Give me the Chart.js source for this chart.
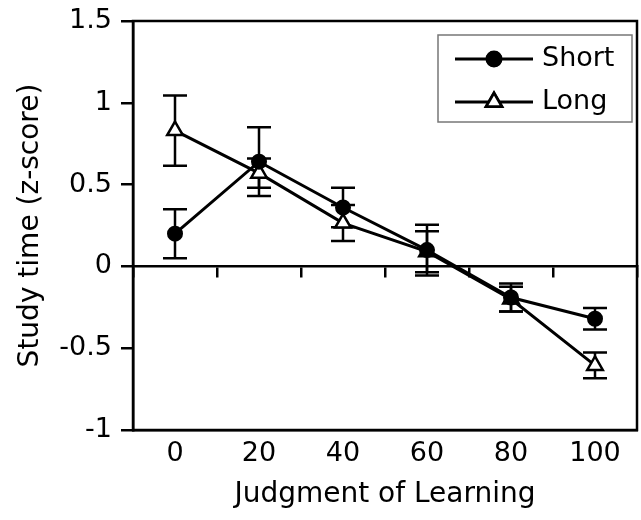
<!DOCTYPE html>
<html>
<head>
<meta charset="utf-8">
<script src="https://cdn.jsdelivr.net/npm/chart.js@4/dist/chart.umd.min.js"></script>
<style>
  html, body { margin: 0; padding: 0; background: #fff; }
  #c { display: block; }
</style>
</head>
<body>
<canvas id="c" width="641" height="520"></canvas>
<script>
// ---- data ----
const categories = ["0", "20", "40", "60", "80", "100"];
const shortValues = [0.20, 0.64, 0.36, 0.10, -0.19, -0.32];
const shortErrors = [0.15, 0.21, 0.12, 0.155, 0.085, 0.065];
const longValues = [0.83, 0.57, 0.265, 0.09, -0.20, -0.605];
const longErrors = [0.215, 0.09, 0.11, 0.125, 0.075, 0.078];
const yTicks = [-1, -0.5, 0, 0.5, 1, 1.5];
const seriesNames = ["Short", "Long"];

const FONT = "DejaVu Sans";
const errorArrays = [shortErrors, longErrors];

function zeroPad(scale) {
  scale.paddingTop = 0; scale.paddingBottom = 0;
  scale.paddingLeft = 0; scale.paddingRight = 0;
}

const errorBarPlugin = {
  id: 'errorBars',
  beforeDatasetsDraw(chart) {
    const ctx = chart.ctx;
    const y = chart.scales.y;
    ctx.save();
    ctx.strokeStyle = '#000';
    ctx.lineWidth = 2.5;
    chart.data.datasets.forEach((ds, i) => {
      const meta = chart.getDatasetMeta(i);
      const errs = errorArrays[i];
      meta.data.forEach((pt, j) => {
        const v = ds.data[j], e = errs[j];
        const yt = y.getPixelForValue(v + e);
        const yb = y.getPixelForValue(v - e);
        const x = pt.x, hw = 12;
        ctx.beginPath();
        ctx.moveTo(x, yt); ctx.lineTo(x, yb);
        ctx.moveTo(x - hw, yt); ctx.lineTo(x + hw, yt);
        ctx.moveTo(x - hw, yb); ctx.lineTo(x + hw, yb);
        ctx.stroke();
      });
    });
    ctx.restore();
  }
};

const framePlugin = {
  id: 'frame',
  afterDraw(chart) {
    const {ctx, chartArea: a} = chart;
    ctx.save();
    ctx.strokeStyle = '#000';
    ctx.lineWidth = 2.5;
    ctx.strokeRect(a.left, a.top, a.right - a.left, a.bottom - a.top);
    ctx.restore();
  }
};

const legendPlugin = {
  id: 'boxLegend',
  afterDraw(chart) {
    const {ctx, chartArea: a} = chart;
    const w = 194, h = 87;
    const bx = a.right - 5 - w, by = a.top + 14;
    ctx.save();
    ctx.fillStyle = '#fff';
    ctx.fillRect(bx, by, w, h);
    ctx.strokeStyle = '#777';
    ctx.lineWidth = 1.5;
    ctx.strokeRect(bx, by, w, h);
    chart.data.datasets.forEach((ds, i) => {
      const cy = by + 24 + i * 43;
      const x0 = bx + 17, x1 = bx + 95;
      ctx.strokeStyle = '#000';
      ctx.lineWidth = 3;
      ctx.beginPath(); ctx.moveTo(x0, cy); ctx.lineTo(x1, cy); ctx.stroke();
      Chart.helpers.drawPoint(ctx, {
        pointStyle: ds.pointStyle,
        radius: ds.pointRadius,
        borderWidth: ds.pointBorderWidth,
        rotation: 0
      }, (x0 + x1) / 2, cy);
      ctx.fillStyle = ds.pointBackgroundColor;
      ctx.strokeStyle = '#000';
      ctx.lineWidth = ds.pointBorderWidth;
      ctx.fill(); ctx.stroke();
      ctx.fillStyle = '#000';
      ctx.font = '27px "' + FONT + '"';
      ctx.textAlign = 'left';
      ctx.textBaseline = 'middle';
      ctx.fillText(ds.label, x1 + 9, cy);
    });
    ctx.restore();
  }
};

new Chart(document.getElementById('c'), {
  type: 'line',
  data: {
    labels: categories,
    datasets: [
      {
        label: seriesNames[0],
        data: shortValues,
        borderColor: '#000',
        borderWidth: 3,
        pointStyle: 'circle',
        pointRadius: 7,
        pointHoverRadius: 7,
        pointBorderWidth: 2,
        pointBackgroundColor: '#000',
        pointBorderColor: '#000',
        fill: false,
        tension: 0
      },
      {
        label: seriesNames[1],
        data: longValues,
        borderColor: '#000',
        borderWidth: 3,
        pointStyle: 'triangle',
        pointRadius: 9,
        pointHoverRadius: 9,
        pointBorderWidth: 2.5,
        pointBackgroundColor: '#fff',
        pointBorderColor: '#000',
        fill: false,
        tension: 0
      }
    ]
  },
  options: {
    responsive: false,
    animation: false,
    devicePixelRatio: 1,
    layout: { autoPadding: false, padding: { top: 21, right: 4, left: 0, bottom: 0 } },
    plugins: { legend: { display: false }, tooltip: { enabled: false } },
    scales: {
      x: {
        type: 'category',
        offset: true,
        position: 'bottom',
        grid: { display: false, drawTicks: false },
        border: { display: true, color: '#000', width: 2.5 },
        ticks: { color: '#000', font: { family: FONT, size: 27 }, padding: 8, maxRotation: 0 },
        title: { display: true, text: 'Judgment of Learning', color: '#000', font: { family: FONT, size: 28 }, padding: { top: 0, bottom: 8 } },
        afterFit(scale) { scale.height = 90; zeroPad(scale); }
      },
      x2: {
        type: 'category',
        labels: categories,
        offset: true,
        position: { y: 0 },
        grid: { display: true, drawOnChartArea: false, drawTicks: true, tickLength: 10, color: '#000', lineWidth: 2.5, offset: true },
        border: { display: true, color: '#000', width: 2.5 },
        ticks: { display: false },
        afterFit(scale) { zeroPad(scale); }
      },
      y: {
        type: 'linear',
        min: -1,
        max: 1.5,
        afterBuildTicks(scale) { scale.ticks = yTicks.map(v => ({ value: v })); },
        grid: { display: true, drawOnChartArea: false, drawTicks: true, tickLength: 12, color: '#000', lineWidth: 2.5 },
        border: { display: true, color: '#000', width: 2.5 },
        ticks: { color: '#000', font: { family: FONT, size: 27 }, padding: 9, callback: (v) => String(v) },
        title: { display: true, text: 'Study time (z-score)', color: '#000', font: { family: FONT, size: 28 }, padding: { top: 14, bottom: 0 } },
        afterFit(scale) { scale.width = 133; zeroPad(scale); }
      }
    }
  },
  plugins: [errorBarPlugin, framePlugin, legendPlugin]
});
</script>
</body>
</html>
